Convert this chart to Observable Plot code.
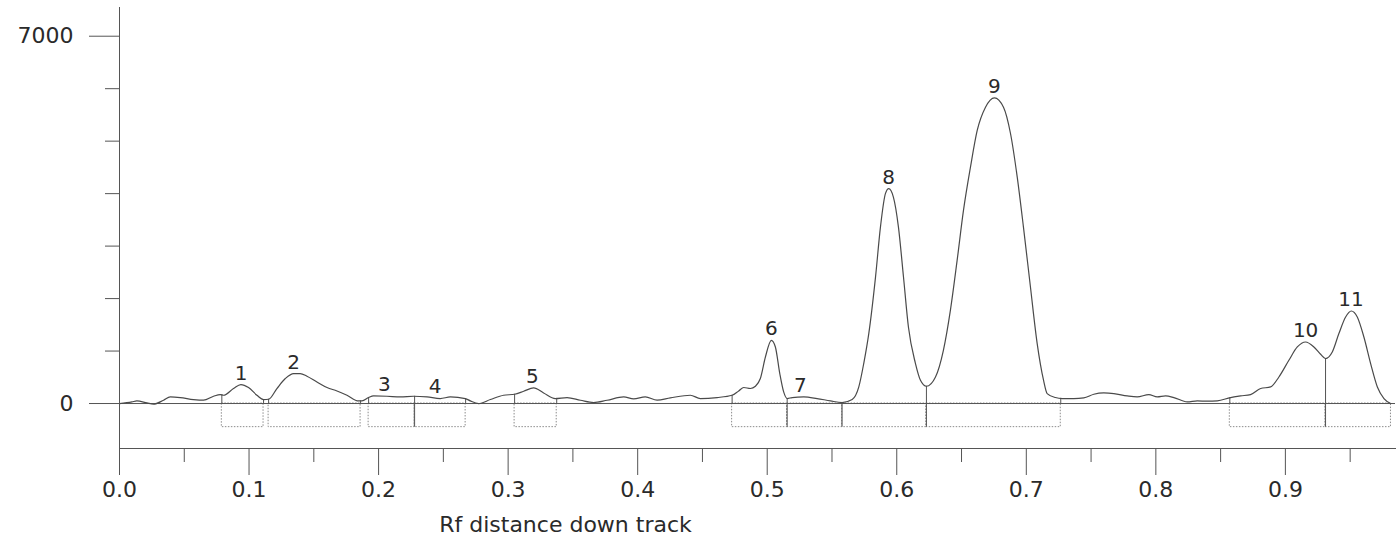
<!DOCTYPE html>
<html>
<head>
<meta charset="utf-8">
<script src="https://cdn.jsdelivr.net/npm/d3@7"></script>
<script src="https://cdn.jsdelivr.net/npm/@observablehq/plot@0.6"></script>
<style>
  html, body { margin: 0; padding: 0; background: #fff; }
  #chart svg { display: block; }
</style>
</head>
<body>
<div id="chart"></div>
<script>
// Densitometric trace: Rf distance vs signal
const rf = [
  0.0000, 0.0096, 0.0134, 0.0212, 0.0263, 0.0340, 0.0392, 0.0469, 0.0571, 0.0649,
  0.0726, 0.0778, 0.0803, 0.0880, 0.0937, 0.0996, 0.1061, 0.1112, 0.1151, 0.1215,
  0.1280, 0.1344, 0.1395, 0.1447, 0.1524, 0.1602, 0.1679, 0.1756, 0.1846, 0.1872,
  0.1923, 0.1961, 0.2065, 0.2168, 0.2270, 0.2374, 0.2476, 0.2554, 0.2670, 0.2708,
  0.2772, 0.2863, 0.2965, 0.3050, 0.3120, 0.3197, 0.3274, 0.3364, 0.3455, 0.3558,
  0.3660, 0.3764, 0.3892, 0.3969, 0.4059, 0.4150, 0.4252, 0.4407, 0.4484, 0.4613,
  0.4729, 0.4780, 0.4819, 0.4870, 0.4909, 0.4947, 0.4986, 0.5032, 0.5063, 0.5097,
  0.5127, 0.5154, 0.5192, 0.5282, 0.5385, 0.5488, 0.5578, 0.5656, 0.5707, 0.5745,
  0.5784, 0.5836, 0.5874, 0.5913, 0.5938, 0.5974, 0.6013, 0.6052, 0.6090, 0.6144,
  0.6183, 0.6229, 0.6299, 0.6360, 0.6414, 0.6466, 0.6515, 0.6569, 0.6621, 0.6685,
  0.6754, 0.6824, 0.6878, 0.6930, 0.6978, 0.7032, 0.7084, 0.7133, 0.7161, 0.7225,
  0.7277, 0.7367, 0.7444, 0.7521, 0.7598, 0.7676, 0.7779, 0.7856, 0.7946, 0.8011,
  0.8075, 0.8139, 0.8243, 0.8320, 0.8397, 0.8474, 0.8577, 0.8654, 0.8731, 0.8809,
  0.8886, 0.8950, 0.9027, 0.9092, 0.9156, 0.9220, 0.9272, 0.9310, 0.9362, 0.9413,
  0.9465, 0.9509, 0.9555, 0.9606, 0.9658, 0.9710, 0.9761, 0.9813
];
const signal = [
  0, 30, 50, 11, -13, 63, 126, 114, 76, 63,
  139, 171, 158, 286, 362, 305, 158, 76, 82, 286,
  476, 571, 571, 520, 411, 305, 240, 158, 50, 50,
  114, 145, 139, 126, 139, 126, 95, 126, 95, 50,
  0, 76, 158, 177, 234, 297, 202, 95, 114, 63,
  19, 63, 126, 88, 126, 63, 107, 158, 95, 114,
  158, 240, 305, 286, 329, 476, 887, 1205, 1078, 571,
  221, 95, 114, 126, 95, 50, 19, 76, 316, 762,
  1333, 2410, 3362, 4004, 4094, 3934, 3362, 2410, 1458, 767,
  444, 329, 506, 1015, 1776, 2728, 3680, 4505, 5204, 5647,
  5826, 5647, 5146, 4314, 3362, 2220, 1142, 444, 190, 114,
  95, 95, 107, 177, 202, 190, 145, 126, 171, 126,
  145, 114, 30, 50, 44, 50, 114, 145, 171, 286,
  316, 506, 824, 1078, 1173, 1078, 939, 857, 982, 1333,
  1649, 1763, 1649, 1268, 762, 316, 95, 0
];

// Integration windows of the peaks
const peakIds   = ["1", "2", "3", "4", "5", "6", "7", "8", "9", "10", "11"];
const peakStart = [0.0790, 0.1151, 0.1923, 0.2278, 0.3050, 0.4729, 0.5154, 0.5578, 0.6229, 0.8571, 0.9310];
const peakEnd   = [0.1112, 0.1861, 0.2278, 0.2672, 0.3375, 0.5154, 0.5578, 0.6229, 0.7266, 0.9310, 0.9815];
const peakLabelRf = [0.0939, 0.1344, 0.2044, 0.2437, 0.3187, 0.5032, 0.5256, 0.5938, 0.6754, 0.9156, 0.9507];

// Axis ticks
const xMajorTicks = [0.0, 0.1, 0.2, 0.3, 0.4, 0.5, 0.6, 0.7, 0.8, 0.9];
const xMinorTicks = [0.05, 0.15, 0.25, 0.35, 0.45, 0.55, 0.65, 0.75, 0.85, 0.95];
const yMajorTicks = [0, 7000];
const yMinorTicks = [1000, 2000, 3000, 4000, 5000, 6000];
const xLabel = "Rf distance down track";

const trace = rf.map((x, i) => ({x, y: signal[i]}));
const interp = (x) => {
  const i = d3.bisectLeft(rf, x);
  if (i <= 0) return signal[0];
  if (i >= rf.length) return signal[signal.length - 1];
  const t = (x - rf[i - 1]) / (rf[i] - rf[i - 1]);
  return signal[i - 1] + t * (signal[i] - signal[i - 1]);
};
const peaks = peakIds.map((id, i) => ({id, start: peakStart[i], end: peakEnd[i], lx: peakLabelRf[i], ly: interp(peakLabelRf[i])}));
const boundaries = Array.from(new Set([...peakStart, ...peakEnd])).sort((a, b) => a - b);
const shared = boundaries.filter(b => peakStart.includes(b) && peakEnd.includes(b));
const boxBottom = -450;

const axisColor = "#555";
const lineColor = "#4a4a4a";

const chart = Plot.plot({
  width: 1398,
  height: 537,
  marginLeft: 119,
  marginRight: 3,
  marginTop: 7,
  marginBottom: 89,
  x: {domain: [0, 0.985]},
  y: {domain: [-857, 7547]},
  style: {fontFamily: "'DejaVu Sans', sans-serif", color: "#2a2a2a", background: "#fff"},
  marks: [
    // dotted integration boxes
    Plot.rect(peaks, {x1: "start", x2: "end", y1: boxBottom, y2: 0, fill: "none", stroke: "#8c8c8c", strokeWidth: 1, strokeDasharray: "1.5,1.5"}),
    // solid separators for adjacent windows
    Plot.ruleX(shared, {x: d => d, y1: boxBottom, y2: 0, stroke: "#555", strokeWidth: 1}),
    // baseline
    Plot.ruleY([0], {stroke: axisColor, strokeWidth: 1}),
    // drop lines from curve to baseline
    Plot.ruleX(boundaries, {x: d => d, y1: 0, y2: d => interp(d), stroke: "#555", strokeWidth: 1}),
    // the trace
    Plot.line(trace, {x: "x", y: "y", stroke: lineColor, strokeWidth: 1.2, curve: "monotone-x"}),
    // peak numbers
    Plot.text(peaks, {x: "lx", y: "ly", text: "id", dy: -5, lineAnchor: "bottom", fontSize: 20, fill: "#2a2a2a"}),
    // frame lines
    Plot.frame({anchor: "left", stroke: axisColor}),
    Plot.frame({anchor: "bottom", stroke: axisColor}),
    // axes
    Plot.axisY({ticks: yMajorTicks, tickSize: 30, tickPadding: 16, tickFormat: d => String(d), fontSize: 22, label: null, stroke: axisColor}),
    Plot.axisY({ticks: yMinorTicks, tickSize: 14, tickFormat: () => "", label: null, stroke: axisColor}),
    Plot.axisX({ticks: xMajorTicks, tickSize: 27, tickPadding: 6, tickFormat: d3.format(".1f"), fontSize: 22, label: null, stroke: axisColor}),
    Plot.axisX({ticks: xMinorTicks, tickSize: 14, tickFormat: () => "", label: null, stroke: axisColor}),
    Plot.text([xLabel], {frameAnchor: "bottom", dx: -192, dy: 83, lineAnchor: "bottom", fontSize: 22, fill: "#2a2a2a"})
  ]
});
document.getElementById("chart").appendChild(chart);
</script>
</body>
</html>
